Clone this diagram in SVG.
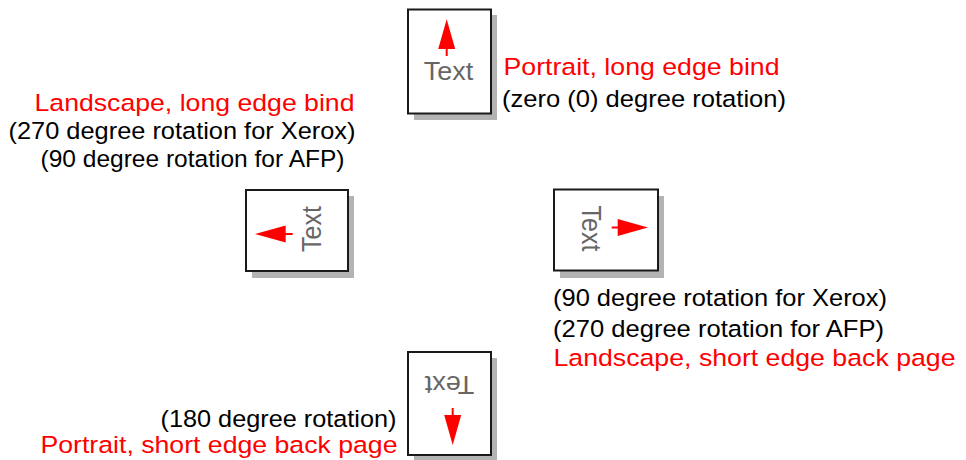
<svg xmlns="http://www.w3.org/2000/svg" width="966" height="460" viewBox="0 0 966 460">
<style>
.page{fill:#ffffff;stroke:#1a1a1a;stroke-width:2}
.shadow{fill:#b3b3b3}
.arrow{fill:#ff0000;stroke:none}
.stem{stroke:#ff0000;stroke-width:2}
.pt{font-family:"Liberation Sans",Arial,sans-serif;font-size:25px;fill:#666666}
.lbl{font-family:"Liberation Sans",Arial,sans-serif;font-size:24.5px;fill:#000000}
.red{fill:#ff0000}
</style>
<rect width="966" height="460" fill="#ffffff"/>
<g id="portrait-long">
  <rect class="shadow" x="414" y="15" width="83" height="105"/>
  <rect class="page" x="408" y="9.5" width="83" height="104"/>
  <line class="stem" x1="446.7" y1="48" x2="446.7" y2="56"/>
  <polygon class="arrow" points="446.7,19.3 455.2,49 438.2,49"/>
  <text class="pt" text-anchor="middle" transform="translate(448.5,79.5) scale(1.08,1)">Text</text>
  <text class="lbl red" x="503.5" y="75" textLength="276" lengthAdjust="spacingAndGlyphs">Portrait, long edge bind</text>
  <text class="lbl" x="502" y="107" textLength="284" lengthAdjust="spacingAndGlyphs">(zero (0) degree rotation)</text>
</g>
<g id="landscape-long">
  <rect class="shadow" x="252" y="196" width="102" height="82"/>
  <rect class="page" x="246" y="190" width="102" height="81"/>
  <line class="stem" x1="284.7" y1="234" x2="292.7" y2="234"/>
  <polygon class="arrow" points="255,234 285.7,225.5 285.7,242.5"/>
  <text class="pt" text-anchor="middle" transform="translate(320.5,229) scale(1.08,1) rotate(-90)">Text</text>
  <text class="lbl red" x="34.5" y="110.5" textLength="320" lengthAdjust="spacingAndGlyphs">Landscape, long edge bind</text>
  <text class="lbl" x="8.5" y="138.5" textLength="347" lengthAdjust="spacingAndGlyphs">(270 degree rotation for Xerox)</text>
  <text class="lbl" x="40.5" y="166.5" textLength="304" lengthAdjust="spacingAndGlyphs">(90 degree rotation for AFP)</text>
</g>
<g id="landscape-short">
  <rect class="shadow" x="560" y="196" width="104" height="82"/>
  <rect class="page" x="554" y="189.5" width="104" height="81"/>
  <line class="stem" x1="611.7" y1="227.5" x2="618.7" y2="227.5"/>
  <polygon class="arrow" points="648,227.5 617.7,219 617.7,236"/>
  <text class="pt" text-anchor="middle" transform="translate(582,228.5) scale(1.08,1) rotate(90)">Text</text>
  <text class="lbl" x="553" y="306" textLength="334" lengthAdjust="spacingAndGlyphs">(90 degree rotation for Xerox)</text>
  <text class="lbl" x="553" y="337" textLength="331" lengthAdjust="spacingAndGlyphs">(270 degree rotation for AFP)</text>
  <text class="lbl red" x="553.5" y="366" textLength="402" lengthAdjust="spacingAndGlyphs">Landscape, short edge back page</text>
</g>
<g id="portrait-short">
  <rect class="shadow" x="414" y="358" width="83" height="104"/>
  <rect class="page" x="408" y="352" width="83" height="103"/>
  <line class="stem" x1="452.7" y1="408" x2="452.7" y2="416"/>
  <polygon class="arrow" points="452.7,445 444.2,415 461.2,415"/>
  <text class="pt" text-anchor="middle" transform="translate(449.5,376) scale(1.08,1) rotate(180)">Text</text>
  <text class="lbl" x="160.5" y="427" textLength="236" lengthAdjust="spacingAndGlyphs">(180 degree rotation)</text>
  <text class="lbl red" x="40.5" y="453" textLength="357" lengthAdjust="spacingAndGlyphs">Portrait, short edge back page</text>
</g>
<g id="connectors"></g>
</svg>
